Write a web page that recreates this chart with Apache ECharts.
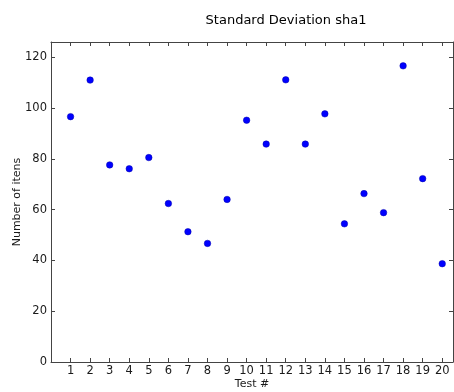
<!DOCTYPE html>
<html>
<head>
<meta charset="utf-8">
<script src="https://cdn.jsdelivr.net/npm/echarts@6/dist/echarts.min.js"></script>
<style>
  html, body { margin: 0; padding: 0; background: #fff; }
  #chart { width: 454px; height: 392px; }
</style>
</head>
<body>
<div id="chart"></div>
<script>
// Test numbers and the standard deviation measured for each run
const tests = [1, 2, 3, 4, 5, 6, 7, 8, 9, 10, 11, 12, 13, 14, 15, 16, 17, 18, 19, 20];
const stdDev = [96.6, 111.0, 77.6, 76.1, 80.5, 62.4, 51.3, 46.7, 64.0, 95.2,
                85.8, 111.1, 85.8, 97.7, 54.4, 66.3, 58.8, 116.6, 72.2, 38.7];
const yTicks = [0, 20, 40, 60, 80, 100, 120];

const font = 'DejaVu Sans';
const axisColor = '#444';
const textColor = '#1a1a1a';

const chart = echarts.init(document.getElementById('chart'), null, { renderer: 'canvas' });

const xCommon = {
  type: 'value',
  min: 0,
  max: 20.55,
  interval: 1,
  axisLine: { show: true, onZero: false, lineStyle: { color: axisColor, width: 1 } },
  axisTick: { show: true, inside: true, length: 4, lineStyle: { color: axisColor } },
  splitLine: { show: false }
};
const yCommon = {
  type: 'value',
  min: 0,
  max: 126,
  interval: 20,
  axisLine: { show: true, onZero: false, lineStyle: { color: axisColor, width: 1 } },
  axisTick: { show: true, inside: true, length: 4, lineStyle: { color: axisColor } },
  splitLine: { show: false }
};

chart.setOption({
  backgroundColor: '#fff',
  animation: false,
  title: {
    text: 'Standard Deviation sha1',
    left: 281,
    top: 9,
    textAlign: 'center',
    textStyle: { fontFamily: font, fontSize: 13, fontWeight: 'normal', color: '#000' }
  },
  grid: { left: 51, right: 1, top: 42, bottom: 30, containLabel: false, outerBoundsMode: 'none' },
  xAxis: [
    Object.assign({}, xCommon, {
      position: 'bottom',
      name: 'Test #',
      nameLocation: 'middle',
      nameGap: 17,
      nameMoveOverlap: false,
      nameTextStyle: { fontFamily: font, fontSize: 11, color: textColor },
      axisLabel: {
        fontFamily: font, fontSize: 11.5, color: textColor, margin: 3,
        showMaxLabel: false,
        formatter: v => (tests.indexOf(v) >= 0 ? String(v) : '')
      }
    }),
    Object.assign({}, xCommon, { position: 'top', axisLabel: { show: false } })
  ],
  yAxis: [
    Object.assign({}, yCommon, {
      position: 'left',
      name: 'Number of itens',
      nameLocation: 'middle',
      nameGap: 28,
      nameMoveOverlap: false,
      nameTextStyle: { fontFamily: font, fontSize: 11, color: textColor },
      axisLabel: {
        fontFamily: font, fontSize: 11.5, color: textColor, margin: 4,
        showMaxLabel: false,
        formatter: v => (yTicks.indexOf(v) >= 0 ? String(v) : '')
      }
    }),
    Object.assign({}, yCommon, { position: 'right', axisLabel: { show: false } })
  ],
  series: [{
    type: 'scatter',
    xAxisIndex: 0,
    yAxisIndex: 0,
    symbol: 'circle',
    symbolSize: 6.5,
    itemStyle: { color: '#0000ff', borderColor: '#0000aa', borderWidth: 0.5, opacity: 1 },
    data: tests.map((t, i) => [t, stdDev[i]])
  }]
});
</script>
</body>
</html>
